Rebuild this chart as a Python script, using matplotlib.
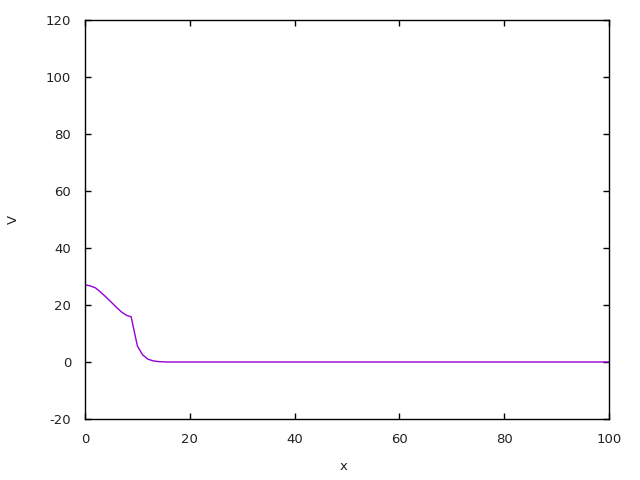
import matplotlib
matplotlib.use("Agg")
import matplotlib.pyplot as plt

x = [0, 1, 2, 3, 4, 5, 6, 7, 8, 8.8, 10, 11, 12, 13, 14, 15, 16, 100]
v = [27.1, 26.7, 26.0, 24.5, 22.8, 21.0, 19.2, 17.5, 16.3, 15.9, 5.6, 2.5, 1.0, 0.4, 0.15, 0.05, 0.0, 0.0]

xticks = [0, 20, 40, 60, 80, 100]
yticks = [-20, 0, 20, 40, 60, 80, 100, 120]

plt.rcParams['font.family'] = ['DejaVu Sans']
plt.rcParams['axes.unicode_minus'] = False
fig = plt.figure(figsize=(6.4, 4.8), dpi=100)
ax = fig.add_axes([85/640, 61/480, 524/640, 399/480])
ax.plot(x, v, color='#9400D3', linewidth=1)
ax.set_xlim(0, 100)
ax.set_ylim(-20, 120)
ax.set_xticks(xticks)
ax.set_yticks(yticks)
ax.tick_params(direction='in', top=True, right=True, length=4.5, width=1,
               labelsize=9.5, pad=10, labelcolor='#222222')
for s in ax.spines.values():
    s.set_linewidth(1)
ax.set_xlabel('x', fontsize=9.5, color='#222222')
ax.set_ylabel('V', fontsize=9.5, color='#222222')
ax.xaxis.set_label_coords(0.4925, -0.103)
ax.yaxis.set_label_coords(-0.125, 0.5)
fig.savefig('out.png', dpi=100)
